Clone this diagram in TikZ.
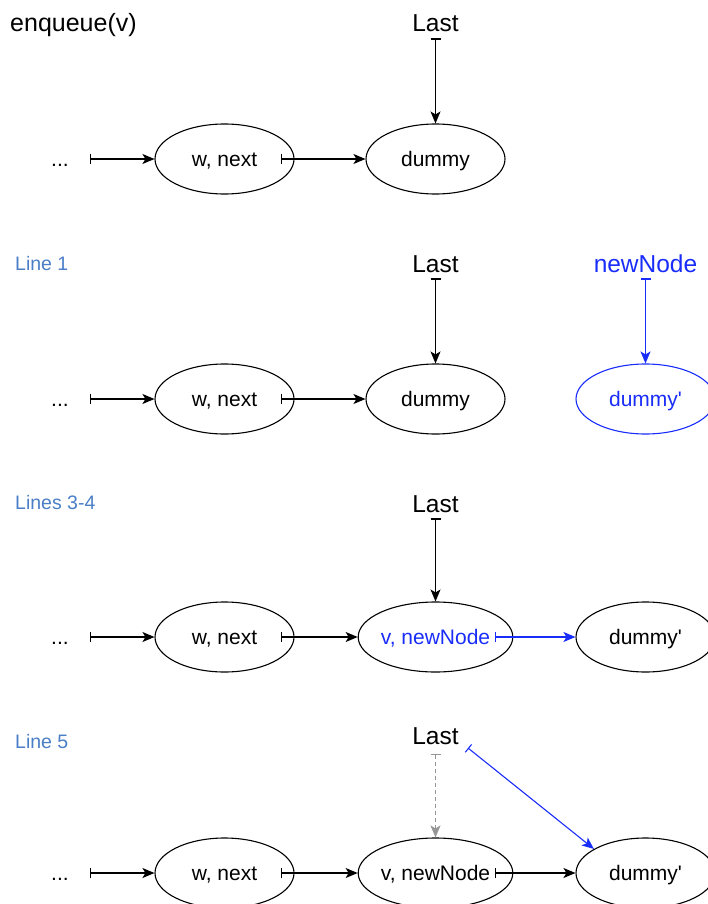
\documentclass[tikz,border=0pt]{standalone}
\usepackage{fontspec}
\setmainfont{Liberation Sans}
\usetikzlibrary{arrows.meta,calc,shapes.geometric}
\definecolor{ptrblue}{RGB}{25,45,250}
\definecolor{steplabel}{RGB}{74,126,199}
\definecolor{oldgray}{RGB}{150,150,150}

\begin{document}
\begin{tikzpicture}[x=1pt,y=-1pt,
  cell/.style={ellipse, draw, line width=1.1pt, minimum width=139pt, minimum height=70pt,
    inner sep=0pt, font=\fontsize{21}{24}\selectfont, text height=15pt, text depth=0pt},
  ptrlabel/.style={anchor=base, inner xsep=0pt, inner ysep=6pt, font=\fontsize{24.5}{28}\selectfont},
  steptitle/.style={anchor=base west, inner sep=0pt, font=\fontsize{19.5}{22}\selectfont, text=steplabel},
  dots/.style={inner sep=0pt, font=\fontsize{21}{24}\selectfont, text height=15pt, text depth=0pt},
  link/.style={line width=1.1pt, {Bar[width=10pt]}-{Stealth[length=12pt,width=10pt,inset=3pt]}},
]
\useasboundingbox (0,0) rectangle (708,904);

% ---------- enqueue(v): initial state ----------
\node[steptitle, text=black, font=\fontsize{25}{28}\selectfont] (title) at (10,32) {enqueue(v)};
\node[dots] (dots1) at (60,159) {...};
\node[cell] (w1) at (224.5,159) {w, next};
\node[cell] (d1) at (435.5,159) {dummy};
\node[ptrlabel] (last1) at (435.5,32) {Last};
\coordinate (in1) at (90,159);
\coordinate (wn1) at (281,159);
\draw[link] (in1) -- (w1);
\draw[link] (wn1) -- (d1);
\draw[link] (last1.south) -- (d1);

% ---------- Line 1 ----------
\node[steptitle] (step2) at (15,270) {Line 1};
\node[dots] (dots2) at (60,399) {...};
\node[cell] (w2) at (224.5,399) {w, next};
\node[cell] (d2) at (435.5,399) {dummy};
\node[ptrlabel] (last2) at (435.5,272) {Last};
\node[ptrlabel, text=ptrblue] (new2) at (645.5,272) {newNode};
\node[cell, draw=ptrblue, text=ptrblue] (dp2) at (645.5,399) {dummy\textquotesingle};
\coordinate (in2) at (90,399);
\coordinate (wn2) at (281,399);
\draw[link] (in2) -- (w2);
\draw[link] (wn2) -- (d2);
\draw[link] (last2.south) -- (d2);
\draw[link, ptrblue] (new2.south) -- (dp2);

% ---------- Lines 3-4 ----------
\node[steptitle] (step3) at (15,509) {Lines 3-4};
\node[dots] (dots3) at (60,637) {...};
\node[cell] (w3) at (224.5,637) {w, next};
\node[cell, text=ptrblue] (v3) at (435.5,637) {v, newNode};
\node[cell] (dp3) at (645.5,637) {dummy\textquotesingle};
\node[ptrlabel] (last3) at (435.5,512) {Last};
\coordinate (in3) at (90,637);
\coordinate (wn3) at (281,637);
\coordinate (vn3) at (495,637);
\draw[link] (in3) -- (w3);
\draw[link] (wn3) -- (v3);
\draw[link, ptrblue] (vn3) -- (dp3);
\draw[link] (last3.south) -- (v3);

% ---------- Line 5 ----------
\node[steptitle] (step4) at (15,748) {Line 5};
\node[dots] (dots4) at (60,873) {...};
\node[cell] (w4) at (224.5,873) {w, next};
\node[cell] (v4) at (435.5,873) {v, newNode};
\node[cell] (dp4) at (645.5,873) {dummy\textquotesingle};
\node[ptrlabel] (last4) at (435.5,744) {Last};
\coordinate (in4) at (90,873);
\coordinate (wn4) at (281,873);
\coordinate (vn4) at (495,873);
\coordinate (old4) at (435.5,754);
\coordinate (new4) at (468,748);
\draw[link] (in4) -- (w4);
\draw[link] (wn4) -- (v4);
\draw[link] (vn4) -- (dp4);
\draw[link, oldgray, dash pattern=on 4pt off 3pt] (old4) -- (v4);
\draw[link, ptrblue] (new4) -- (dp4.155);
\end{tikzpicture}
\end{document}
